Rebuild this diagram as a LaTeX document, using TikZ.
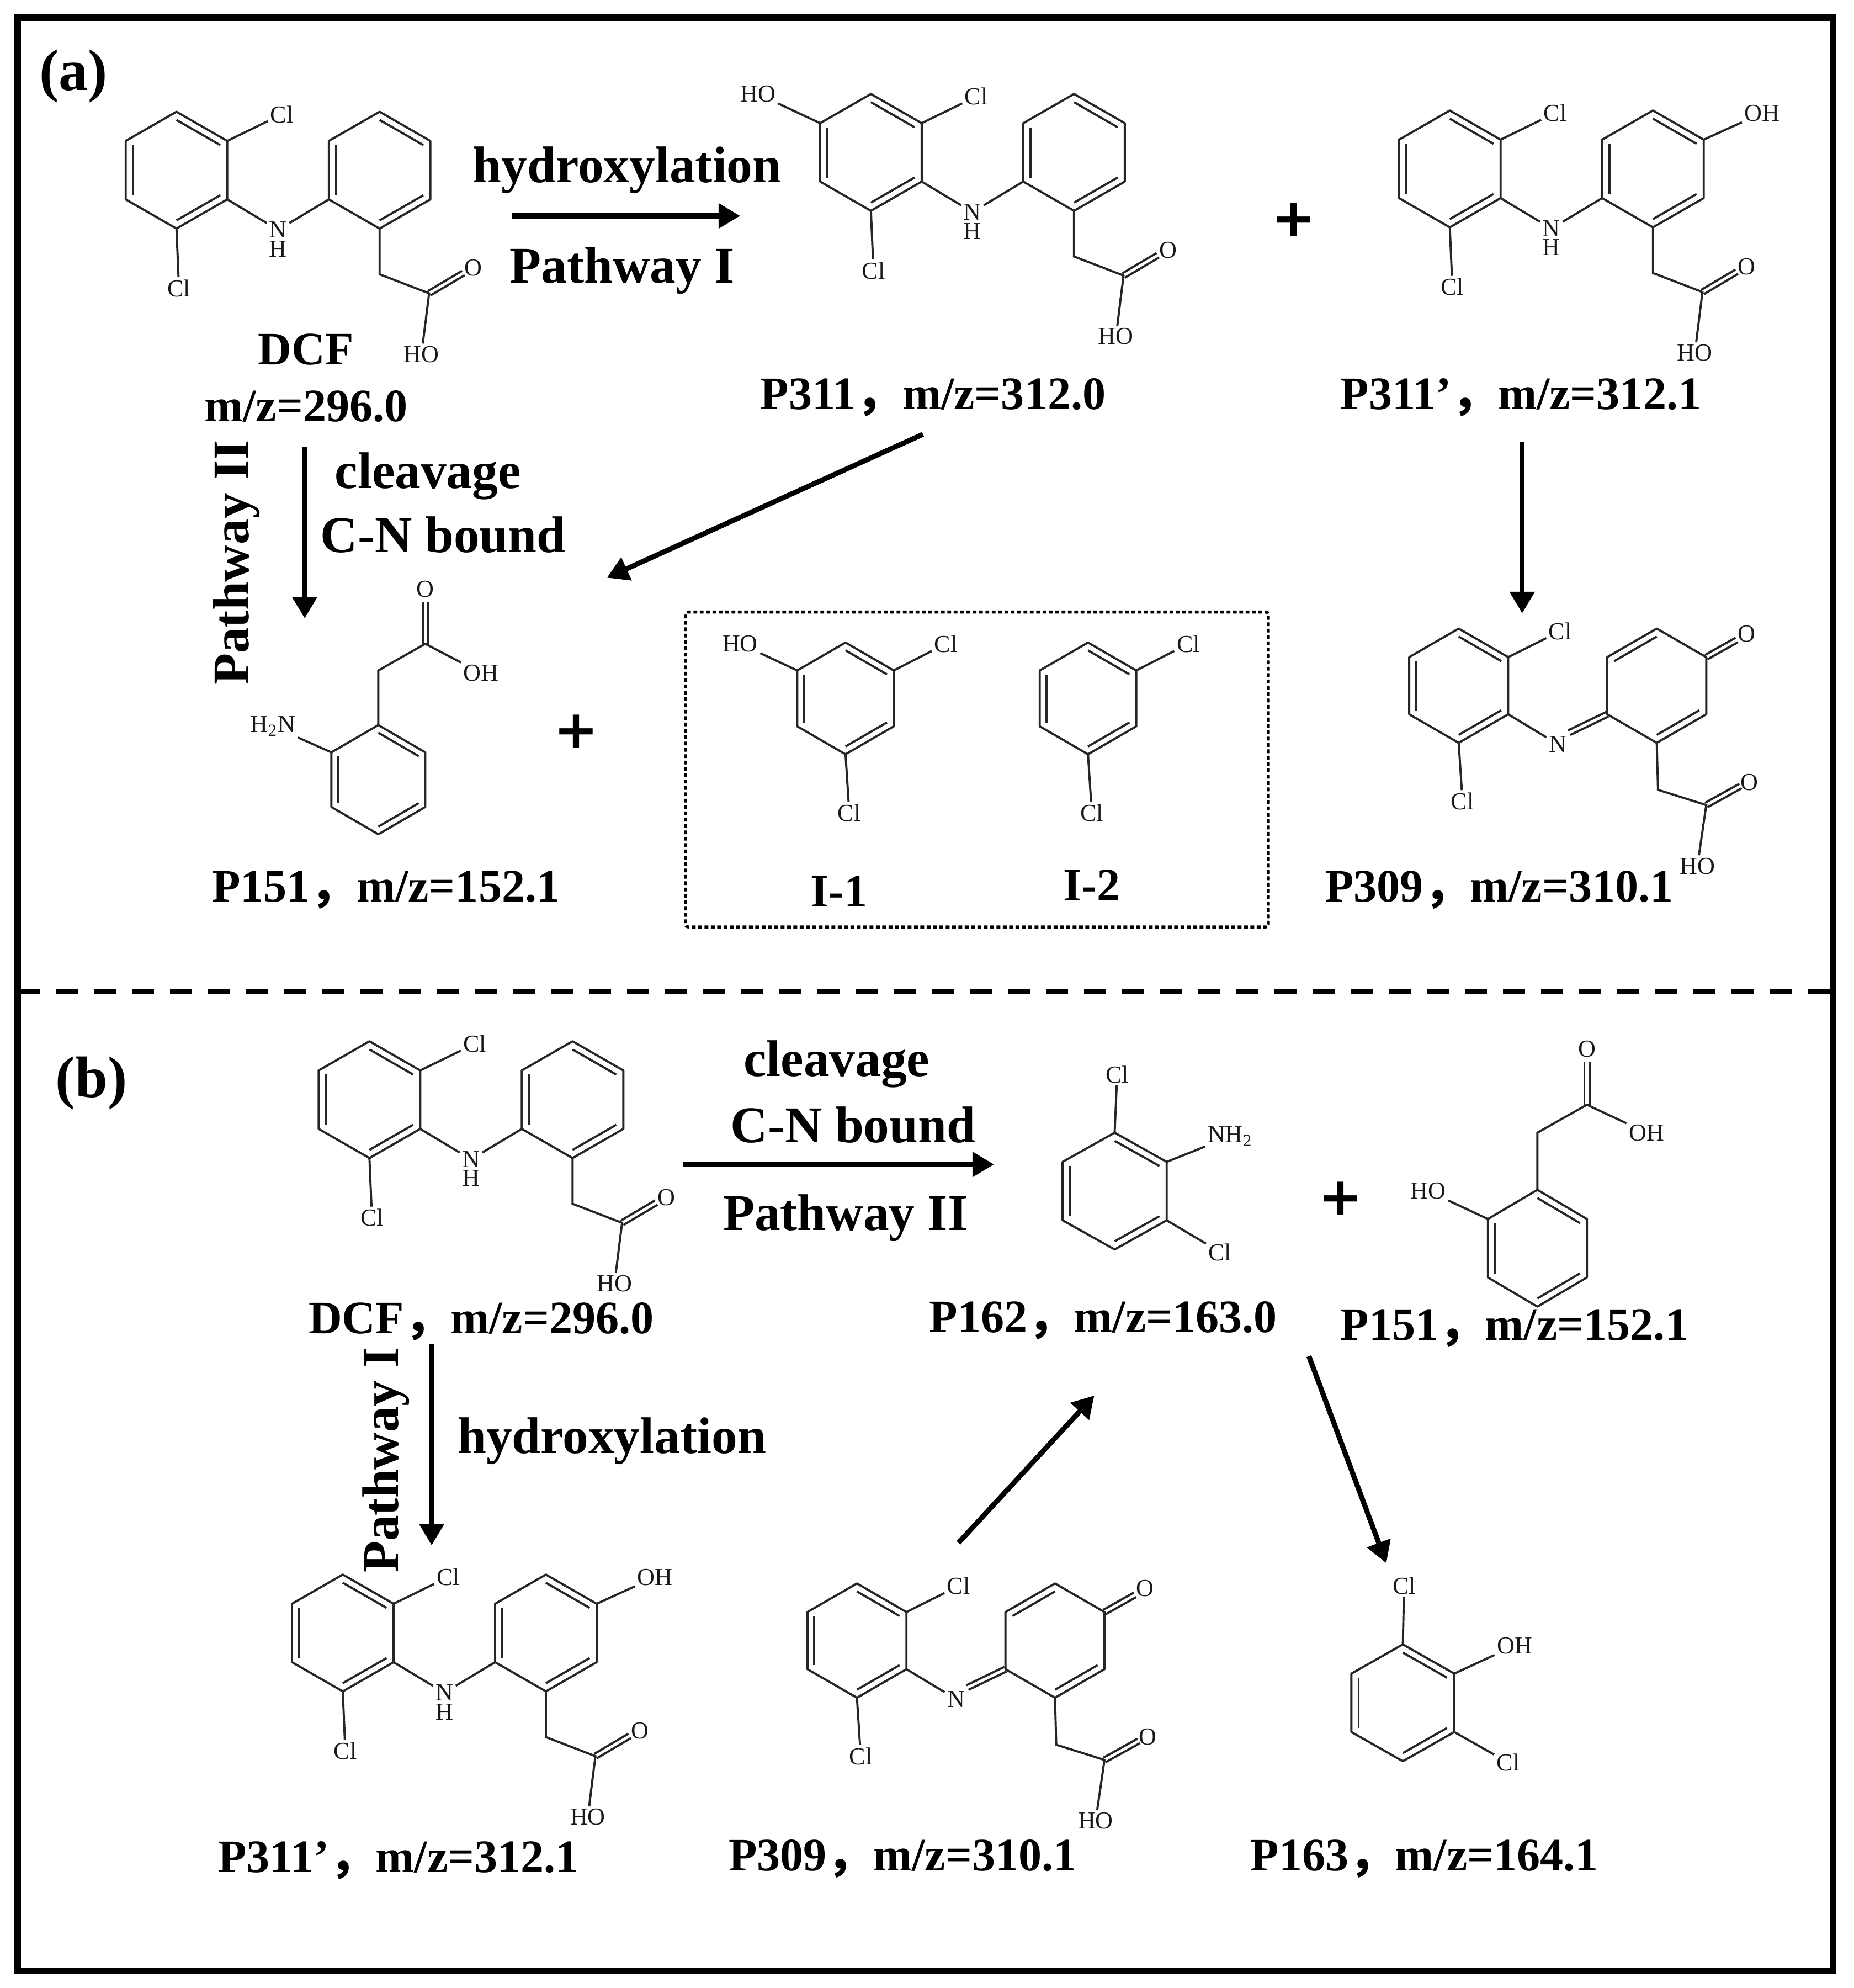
\documentclass[tikz,border=0pt]{standalone}
\usepackage{fontspec}
\setmainfont{Liberation Serif}
\newfontfamily\cjk{Noto Sans CJK SC}
\newfontfamily\plusfont{DejaVu Sans}
\usetikzlibrary{arrows.meta, calc}
\newcommand{\fwc}{{\cjk ，}}
\tikzset{
    bondline/.style={line width=0.85pt, black!85},
    atomlabel/.style={font=\fontsize{9.6}{10}\selectfont, inner sep=0.4pt, outer sep=0.6pt, black!90},
    namelabel/.style={font=\fontsize{18.3}{20}\selectfont\bfseries, inner sep=0pt, yshift=-1pt},
    rxnbase/.style={font=\fontsize{20.3}{22}\selectfont\bfseries, inner sep=0pt},
    rxnlabel/.style={rxnbase, yshift=-1.5pt},
    plussign/.style={font=\fontsize{21}{24}\selectfont\plusfont\bfseries, inner sep=0pt},
    rxnarrow/.style={-{Triangle[length=8.5pt,width=9.5pt]}, line width=2pt},
}
% ring: name, centre x, centre y, half width, half height
\newcommand{\hexring}[5]{
    \coordinate (#1c) at (#2,#3);
    \coordinate (#11) at (#2,#3-#5);
    \coordinate (#12) at (#2+#4,#3-#5/2);
    \coordinate (#13) at (#2+#4,#3+#5/2);
    \coordinate (#14) at (#2,#3+#5);
    \coordinate (#15) at (#2-#4,#3+#5/2);
    \coordinate (#16) at (#2-#4,#3-#5/2);
    \draw[bondline, line join=round] (#11) -- (#12) -- (#13) -- (#14) -- (#15) -- (#16) -- cycle;
}
\newcommand{\innerbond}[3]{
    \draw[bondline] ($(#2)!.14!(#1c)$) -- ($(#3)!.14!(#1c)$);
}
\newcommand{\benzene}[5]{
    \hexring{#1}{#2}{#3}{#4}{#5}
    \innerbond{#1}{#11}{#12}
    \innerbond{#1}{#13}{#14}
    \innerbond{#1}{#15}{#16}
}
\newcommand{\dblbond}[2]{
    \draw[bondline] ($(#1)!1pt!90:(#2)$) -- ($(#2)!1pt!-90:(#1)$);
    \draw[bondline] ($(#1)!1pt!-90:(#2)$) -- ($(#2)!1pt!90:(#1)$);
}
% two rings joined by NH, with the acid arm
\newcommand{\dcfbase}[3]{
    \benzene{#1L}{#2}{#3}{40}{46}
    \benzene{#1R}{#2+160}{#3}{40}{46}
    \node[atomlabel] (#1N) at (#2+80,#3+47) {N};
    \node[atomlabel] (#1H) at (#2+80,#3+62) {H};
    \node[atomlabel] (#1ClT) at (#2+83,#3-44) {Cl};
    \node[atomlabel] (#1ClB) at (#2+2,#3+93) {Cl};
    \node[atomlabel] (#1O) at (#2+234,#3+77) {O};
    \node[atomlabel] (#1HO) at (#2+193,#3+145) {HO};
    \coordinate (#1Me) at (#2+160,#3+82);
    \coordinate (#1Ca) at (#2+199,#3+97);
    \coordinate (#1Oe) at (#2+226,#3+81);
    \draw[bondline] (#1L3) -- (#1N);
    \draw[bondline] (#1R5) -- (#1N);
    \draw[bondline] (#1L2) -- (#1ClT);
    \draw[bondline] (#1L4) -- (#1ClB);
    \draw[bondline] (#1R4) -- (#1Me) -- (#1Ca) -- (#1HO);
    \dblbond{#1Ca}{#1Oe}
}
% imine form, right ring is the quinoid one
\newcommand{\quinbase}[3]{
    \benzene{#1L}{#2}{#3}{39}{45}
    \hexring{#1R}{#2+156}{#3}{39}{45}
    \innerbond{#1R}{#1R6}{#1R1}
    \innerbond{#1R}{#1R3}{#1R4}
    \node[atomlabel] (#1N) at (#2+78,#3+46) {N};
    \node[atomlabel] (#1ClT) at (#2+80,#3-43) {Cl};
    \node[atomlabel] (#1ClB) at (#2+3,#3+91) {Cl};
    \node[atomlabel] (#1O) at (#2+229,#3+76) {O};
    \node[atomlabel] (#1Ok) at (#2+227,#3-41) {O};
    \node[atomlabel] (#1HO) at (#2+188,#3+142) {HO};
    \coordinate (#1Ne) at (#2+87,#3+37);
    \coordinate (#1Me) at (#2+157,#3+82);
    \coordinate (#1Ca) at (#2+195,#3+94);
    \coordinate (#1Oe) at (#2+222,#3+79);
    \coordinate (#1Oke) at (#2+219,#3-36);
    \draw[bondline] (#1L3) -- (#1N);
    \dblbond{#1R5}{#1Ne}
    \draw[bondline] (#1L2) -- (#1ClT);
    \draw[bondline] (#1L4) -- (#1ClB);
    \draw[bondline] (#1R4) -- (#1Me) -- (#1Ca) -- (#1HO);
    \dblbond{#1Ca}{#1Oe}
    \dblbond{#1R2}{#1Oke}
}
\begin{document}
\begin{tikzpicture}[x=0.5pt, y=-0.5pt]
    \useasboundingbox (0,0) rectangle (1460,1565.6);

    % Frame and divider
    \draw[line width=2.5pt] (14,14) rectangle (1444,1552);
    \draw[line width=2pt, dash pattern=on 8.7pt off 6.3pt] (14,781) -- (1444,781);

    \node[font=\fontsize{23}{25}\selectfont\bfseries, inner sep=0pt] (tagA) at (58,60) {(a)};
    \node[font=\fontsize{23}{25}\selectfont\bfseries, inner sep=0pt] (tagB) at (72,853) {(b)};

    % --- Panel a ---
    \dcfbase{dcfA}{139}{134}
    \node[namelabel] (nameDcfA) at (241,273) {DCF};
    \node[namelabel] (mzDcfA) at (241,318) {m/z=296.0};

    \node[rxnlabel] (hydA) at (494,131) {hydroxylation};
    \node[rxnlabel] (pathOneA) at (490,210) {Pathway I};
    \coordinate (hydAs) at (403,170);
    \coordinate (hydAe) at (583,170);
    \draw[rxnarrow] (hydAs) -- (hydAe);

    \dcfbase{ptA}{686}{120}
    \node[atomlabel] (ptAOH) at (597,74) {HO};
    \draw[bondline] (ptAL6) -- (ptAOH);
    \node[namelabel] (namePtA) at (735,311) {P311\fwc m/z=312.0};

    \node[plussign] (plusA) at (1019,173) {+};

    \dcfbase{pqA}{1142}{133}
    \node[atomlabel] (pqAOH) at (1388,89) {OH};
    \draw[bondline] (pqAR2) -- (pqAOH);
    \node[namelabel] (namePqA) at (1198,311) {P311’\fwc m/z=312.1};

    \node[rxnbase, rotate=90] (pathTwoA) at (186,443) {Pathway II};
    \node[rxnlabel] (cleavA) at (337,372) {cleavage};
    \node[rxnlabel] (boundA) at (349,418) {C-N bound};
    \coordinate (cutAs) at (240,352);
    \coordinate (cutAe) at (240,487);
    \draw[rxnarrow] (cutAs) -- (cutAe);

    \coordinate (ptDownS) at (727,342);
    \coordinate (ptDownE) at (478,455);
    \draw[rxnarrow] (ptDownS) -- (ptDownE);

    \coordinate (pqDownS) at (1199,348);
    \coordinate (pqDownE) at (1199,483);
    \draw[rxnarrow] (pqDownS) -- (pqDownE);

    % P151 amine
    \benzene{amA}{298}{614}{37}{43}
    \node[atomlabel] (amAN) at (215,572) {H\textsubscript{2}N};
    \node[atomlabel] (amAO) at (335,464) {O};
    \node[atomlabel] (amAOH) at (379,530) {OH};
    \coordinate (amAMe) at (298,528);
    \coordinate (amACa) at (335,507);
    \coordinate (amAOe) at (335,474);
    \draw[bondline] (amA6) -- (amAN);
    \draw[bondline] (amA1) -- (amAMe) -- (amACa) -- (amAOH);
    \dblbond{amACa}{amAOe}
    \node[namelabel] (nameAmA) at (304,699) {P151\fwc m/z=152.1};

    \node[plussign] (plusB) at (454,576) {+};

    % Intermediates box
    \draw[line width=1.2pt, dash pattern=on 1.5pt off 1pt, rounded corners=1pt] (540,482) rectangle (999,730);
    \benzene{iOne}{666}{550}{38}{44}
    \node[atomlabel] (iOneOH) at (583,507) {HO};
    \node[atomlabel] (iOneCl) at (745,507) {Cl};
    \node[atomlabel] (iOneClB) at (669,640) {Cl};
    \draw[bondline] (iOne6) -- (iOneOH);
    \draw[bondline] (iOne2) -- (iOneCl);
    \draw[bondline] (iOne4) -- (iOneClB);
    \node[namelabel] (nameIOne) at (661,700) {I-1};

    \benzene{iTwo}{857}{550}{38}{44}
    \node[atomlabel] (iTwoCl) at (936,507) {Cl};
    \node[atomlabel] (iTwoClB) at (860,640) {Cl};
    \draw[bondline] (iTwo2) -- (iTwoCl);
    \draw[bondline] (iTwo4) -- (iTwoClB);
    \node[namelabel] (nameITwo) at (860,695) {I-2};

    \quinbase{quA}{1149}{540}
    \node[namelabel] (nameQuA) at (1181,699) {P309\fwc m/z=310.1};

    % --- Panel b ---
    \dcfbase{dcfB}{291}{866}
    \node[namelabel] (nameDcfB) at (379,1039) {DCF\fwc m/z=296.0};

    \node[rxnlabel] (cleavB) at (659,835) {cleavage};
    \node[rxnlabel] (boundB) at (672,883) {C-N bound};
    \node[rxnlabel] (pathTwoB) at (666,956) {Pathway II};
    \coordinate (cutBs) at (538,917);
    \coordinate (cutBe) at (783,917);
    \draw[rxnarrow] (cutBs) -- (cutBe);

    % P162
    \benzene{anB}{878}{938}{41}{46}
    \node[atomlabel] (anBClT) at (880,846) {Cl};
    \node[atomlabel] (anBN) at (969,895) {NH\textsubscript{2}};
    \node[atomlabel] (anBCl) at (961,986) {Cl};
    \draw[bondline] (anB1) -- (anBClT);
    \draw[bondline] (anB2) -- (anBN);
    \draw[bondline] (anB3) -- (anBCl);
    \node[namelabel] (nameAnB) at (869,1038) {P162\fwc m/z=163.0};

    \node[plussign] (plusC) at (1056,944) {+};

    % P151 phenol
    \benzene{phB}{1211}{983}{39}{46}
    \node[atomlabel] (phBHO) at (1125,938) {HO};
    \node[atomlabel] (phBO) at (1250,826) {O};
    \node[atomlabel] (phBOH) at (1297,892) {OH};
    \coordinate (phBMe) at (1211,892);
    \coordinate (phBCa) at (1250,870);
    \coordinate (phBOe) at (1250,836);
    \draw[bondline] (phB6) -- (phBHO);
    \draw[bondline] (phB1) -- (phBMe) -- (phBCa) -- (phBOH);
    \dblbond{phBCa}{phBOe}
    \node[namelabel] (namePhB) at (1193,1044) {P151\fwc m/z=152.1};

    \node[rxnbase, rotate=90] (pathOneB) at (304,1150) {Pathway I};
    \node[rxnlabel] (hydB) at (482,1132) {hydroxylation};
    \coordinate (hydBs) at (340,1058);
    \coordinate (hydBe) at (340,1217);
    \draw[rxnarrow] (hydBs) -- (hydBe);

    \dcfbase{pqB}{270}{1286}
    \node[atomlabel] (pqBOH) at (516,1242) {OH};
    \draw[bondline] (pqBR2) -- (pqBOH);
    \node[namelabel] (namePqB) at (314,1463) {P311’\fwc m/z=312.1};

    \quinbase{quB}{675}{1292}
    \node[namelabel] (nameQuB) at (711,1462) {P309\fwc m/z=310.1};

    \coordinate (quUpS) at (755,1215);
    \coordinate (quUpE) at (862,1099);
    \draw[rxnarrow] (quUpS) -- (quUpE);

    \coordinate (anDownS) at (1031,1068);
    \coordinate (anDownE) at (1092,1231);
    \draw[rxnarrow] (anDownS) -- (anDownE);

    % P163
    \benzene{olB}{1105}{1341}{40.5}{46}
    \node[atomlabel] (olBClT) at (1106,1249) {Cl};
    \node[atomlabel] (olBOH) at (1193,1296) {OH};
    \node[atomlabel] (olBCl) at (1188,1388) {Cl};
    \draw[bondline] (olB1) -- (olBClT);
    \draw[bondline] (olB2) -- (olBOH);
    \draw[bondline] (olB3) -- (olBCl);
    \node[namelabel] (nameOlB) at (1122,1462) {P163\fwc m/z=164.1};
\end{tikzpicture}
\end{document}
